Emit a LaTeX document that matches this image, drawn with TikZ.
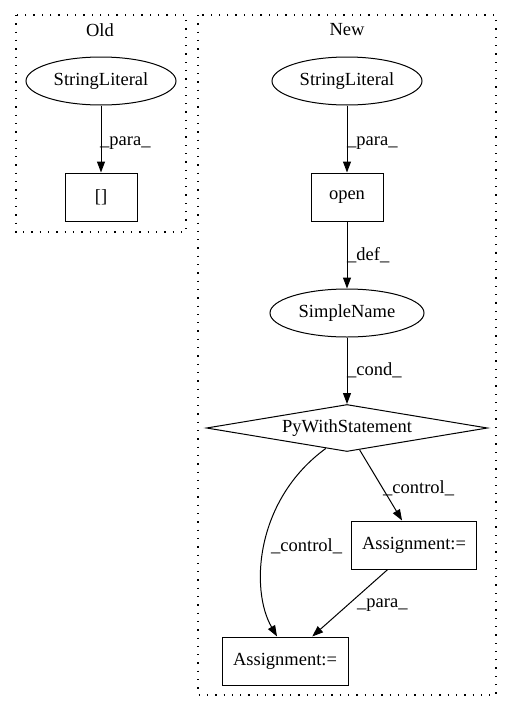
\documentclass[tikz,border=0pt]{standalone}
\usepackage{fontspec}
\setmainfont{Liberation Serif}
\usetikzlibrary{shapes.geometric,arrows.meta}

\tikzset{gnode/.style={draw,line width=1pt,inner sep=0pt,font=\fontsize{18.5}{21}\selectfont}}
\tikzset{oval/.style={gnode,ellipse,minimum width=150pt,minimum height=48pt}}
\tikzset{box/.style={gnode,rectangle,minimum height=48pt}}
\tikzset{cond/.style={gnode,diamond,aspect=6,minimum width=281pt,minimum height=47pt}}
\tikzset{eedge/.style={line width=1pt,-{Triangle[length=11pt,width=8pt]}}}
\tikzset{elabel/.style={anchor=west,inner sep=0pt,font=\fontsize{18.5}{21}\selectfont}}
\tikzset{cluster/.style={line width=1.1pt,dash pattern=on 1.3pt off 7pt}}

\begin{document}
\begin{tikzpicture}[x=1pt,y=-1pt]
        \useasboundingbox (0,0) rectangle (512,712);
        % draw the clusters
        \draw[cluster] (16,15) rectangle (186,232);
        \node[elabel,anchor=center] (told) at (100,30) {Old};
        \draw[cluster] (198,15) rectangle (496,695);
        \node[elabel,anchor=center] (tnew) at (347,30) {New};

        % old side
        \node[oval] (oldlit) at (101,81) {StringLiteral};
        \node[box,minimum width=72pt] (index) at (101,197) {[]};
        \draw[eedge] (oldlit) -- (index);
        \node[elabel] (lpara0) at (100,143) {\_para\_};

        % new side
        \node[oval] (newlit) at (347,81) {StringLiteral};
        \node[box,minimum width=72pt] (open) at (347,197) {open};
        \node[oval,minimum width=154pt] (sname) at (347,313) {SimpleName};
        \node[cond] (pwith) at (347,428) {PyWithStatement};
        \node[box,minimum width=125pt] (asgnr) at (414,545) {Assignment:=};
        \node[box,minimum width=126pt] (asgnb) at (285,661) {Assignment:=};

        \draw[eedge] (newlit) -- (open);
        \node[elabel] (lpara1) at (347,143) {\_para\_};
        \draw[eedge] (open) -- (sname);
        \node[elabel] (ldef) at (347,255) {\_def\_};
        \draw[eedge] (sname) -- (pwith);
        \node[elabel] (lcond) at (347,370) {\_cond\_};

        \draw[eedge] (pwith.-60) -- (asgnr.116);
        \node[elabel] (lctrl1) at (383,488) {\_control\_};
        \draw[eedge] (pwith.-136) .. controls (255,500) and (250,590) .. (asgnb.108);
        \node[elabel] (lctrl2) at (271,546) {\_control\_};
        \draw[eedge] (asgnr.-137) -- (asgnb.42);
        \node[elabel] (lpara2) at (357,605) {\_para\_};
    \end{tikzpicture}
\end{document}
